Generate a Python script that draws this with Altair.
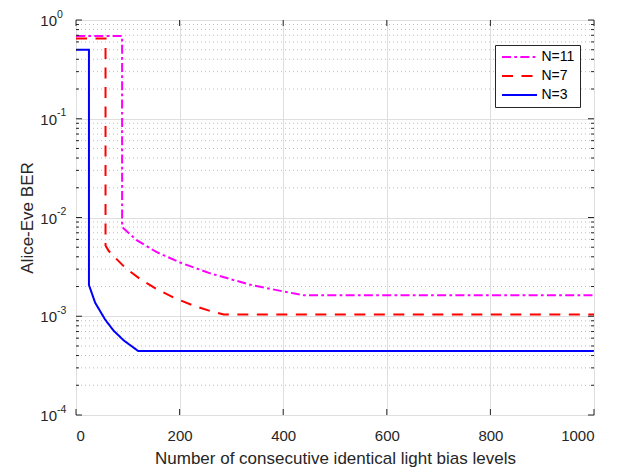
import altair as alt
import pandas as pd

# ---- data ----
series_names = ["N=11", "N=7", "N=3"]
series_colors = ["#ff00ff", "#ff0000", "#0000ff"]

n11_x = [0, 89, 89, 117, 156, 201, 259, 337, 401, 440, 1000]
n11_y = [0.69, 0.69, 8.0e-3, 5.9e-3, 4.45e-3, 3.5e-3, 2.72e-3, 2.08e-3, 1.78e-3, 1.63e-3, 1.63e-3]

n7_x = [0, 57, 57, 63, 75, 95, 124, 156, 188, 224, 259, 285, 1000]
n7_y = [0.65, 0.65, 5.2e-3, 4.6e-3, 3.95e-3, 3.1e-3, 2.38e-3, 1.88e-3, 1.55e-3, 1.3e-3, 1.13e-3, 1.04e-3, 1.04e-3]

n3_x = [0, 25, 25, 37, 56, 72, 92, 120, 1000]
n3_y = [0.5, 0.5, 2.07e-3, 1.37e-3, 9.3e-4, 7.2e-4, 5.7e-4, 4.45e-4, 4.45e-4]

x_ticks = [0, 200, 400, 600, 800, 1000]
y_decades = [1, 0.1, 0.01, 0.001, 0.0001]
y_exponents = ["0", "-1", "-2", "-3", "-4"]
minor_mult = [2, 3, 4, 5, 6, 7, 8, 9]
minor_decades = [0.0001, 0.001, 0.01, 0.1]

x_title = "Number of consecutive identical light bias levels"
y_title = "Alice-Eve BER"

# ---- tables ----
rows = []
for name, xs, ys in [("N=11", n11_x, n11_y), ("N=7", n7_x, n7_y), ("N=3", n3_x, n3_y)]:
    for i, (a, b) in enumerate(zip(xs, ys)):
        rows.append({"series": name, "n": a, "ber": b, "ord": i})
df = pd.DataFrame(rows)

minor_vals = [m * d for d in minor_decades for m in minor_mult]
df_minor = pd.DataFrame({"v": minor_vals})
df_major = pd.DataFrame({"v": y_decades, "e": y_exponents})
df_xt = pd.DataFrame({"v": x_ticks})

W, H = 518, 395
AX = "#262626"
FONT = "Liberation Sans"

xscale = alt.Scale(domain=[0, 1000], nice=False, zero=False)
yscale = alt.Scale(type="log", domain=[1e-4, 1], nice=False)

x_axis = alt.Axis(values=x_ticks, title=x_title, grid=True, gridColor="#dedede", format="d",
                  labelFontSize=15, titleFontSize=17, labelPadding=13, titlePadding=7,
                  labelFont=FONT, titleFont=FONT, labelColor=AX, titleColor=AX,
                  titleFontWeight="normal", domain=False, ticks=False)
y_axis = alt.Axis(values=y_decades, title=y_title, grid=True, gridColor="#dedede",
                  labels=False, titleFontSize=17, titlePadding=40,
                  titleFont=FONT, titleColor=AX,
                  titleFontWeight="normal", domain=False, ticks=False)

legend_def = alt.Legend(
    title=None, orient="none", legendX=419, legendY=25,
    symbolType="M-3.5,0H3.5", symbolSize=100, symbolOffset=12.5, symbolStrokeWidth=2,
    labelFontSize=14, labelFont=FONT, labelColor="#000000", labelOffset=15,
    padding=5, rowPadding=5, strokeColor=AX, fillColor="#ffffff",
    cornerRadius=0,
)

lines = alt.Chart(df).mark_line(strokeWidth=2, clip=True, strokeCap="butt").encode(
    x=alt.X("n:Q", scale=xscale, axis=x_axis),
    y=alt.Y("ber:Q", scale=yscale, axis=y_axis),
    color=alt.Color("series:N", scale=alt.Scale(domain=series_names, range=series_colors), legend=legend_def),
    strokeDash=alt.StrokeDash("series:N",
                              scale=alt.Scale(domain=series_names,
                                              range=[[9, 3.3, 2.7, 3.3], [11, 8.5], [1, 0]]),
                              legend=legend_def),
    order="ord:Q",
)

minor_grid = alt.Chart(df_minor).mark_rule(color="#bdbdbd", strokeDash=[1, 3], strokeWidth=1).encode(
    y=alt.Y("v:Q", scale=yscale, axis=y_axis)
)

tick_y_major_l = alt.Chart(df_major).mark_rule(color=AX).encode(
    y=alt.Y("v:Q", scale=yscale, axis=y_axis), x=alt.value(0), x2=alt.value(6))
tick_y_major_r = alt.Chart(df_major).mark_rule(color=AX).encode(
    y=alt.Y("v:Q", scale=yscale, axis=y_axis), x=alt.value(W - 6), x2=alt.value(W))
tick_y_minor_l = alt.Chart(df_minor).mark_rule(color=AX).encode(
    y=alt.Y("v:Q", scale=yscale, axis=y_axis), x=alt.value(0), x2=alt.value(3))
tick_y_minor_r = alt.Chart(df_minor).mark_rule(color=AX).encode(
    y=alt.Y("v:Q", scale=yscale, axis=y_axis), x=alt.value(W - 3), x2=alt.value(W))
tick_x_b = alt.Chart(df_xt).mark_rule(color=AX).encode(
    x=alt.X("v:Q", scale=xscale, axis=x_axis), y=alt.value(H), y2=alt.value(H - 6))
tick_x_t = alt.Chart(df_xt).mark_rule(color=AX).encode(
    x=alt.X("v:Q", scale=xscale, axis=x_axis), y=alt.value(0), y2=alt.value(6))

# y tick labels: "10" with a raised exponent
lab_base = alt.Chart(df_major).mark_text(
    text="10", align="right", baseline="middle", fontSize=15, font=FONT, color=AX, dy=1
).encode(y=alt.Y("v:Q", scale=yscale, axis=y_axis), x=alt.value(-19))
lab_exp = alt.Chart(df_major).mark_text(
    align="left", baseline="middle", fontSize=10.5, font=FONT, color=AX, dy=-5.5
).encode(y=alt.Y("v:Q", scale=yscale, axis=y_axis), x=alt.value(-19), text="e:N")

chart = alt.layer(
    minor_grid, lines, tick_y_major_l, tick_y_major_r, tick_y_minor_l, tick_y_minor_r,
    tick_x_b, tick_x_t, lab_base, lab_exp
).properties(
    width=W, height=H,
    autosize=alt.AutoSizeParams(type="none"),
    padding={"left": 68, "top": 12, "right": 20, "bottom": 54},
).configure_view(
    stroke=AX, strokeWidth=1
).configure(background="#ffffff")

chart.save("out.html", embed_options={"renderer": "svg", "actions": False})
